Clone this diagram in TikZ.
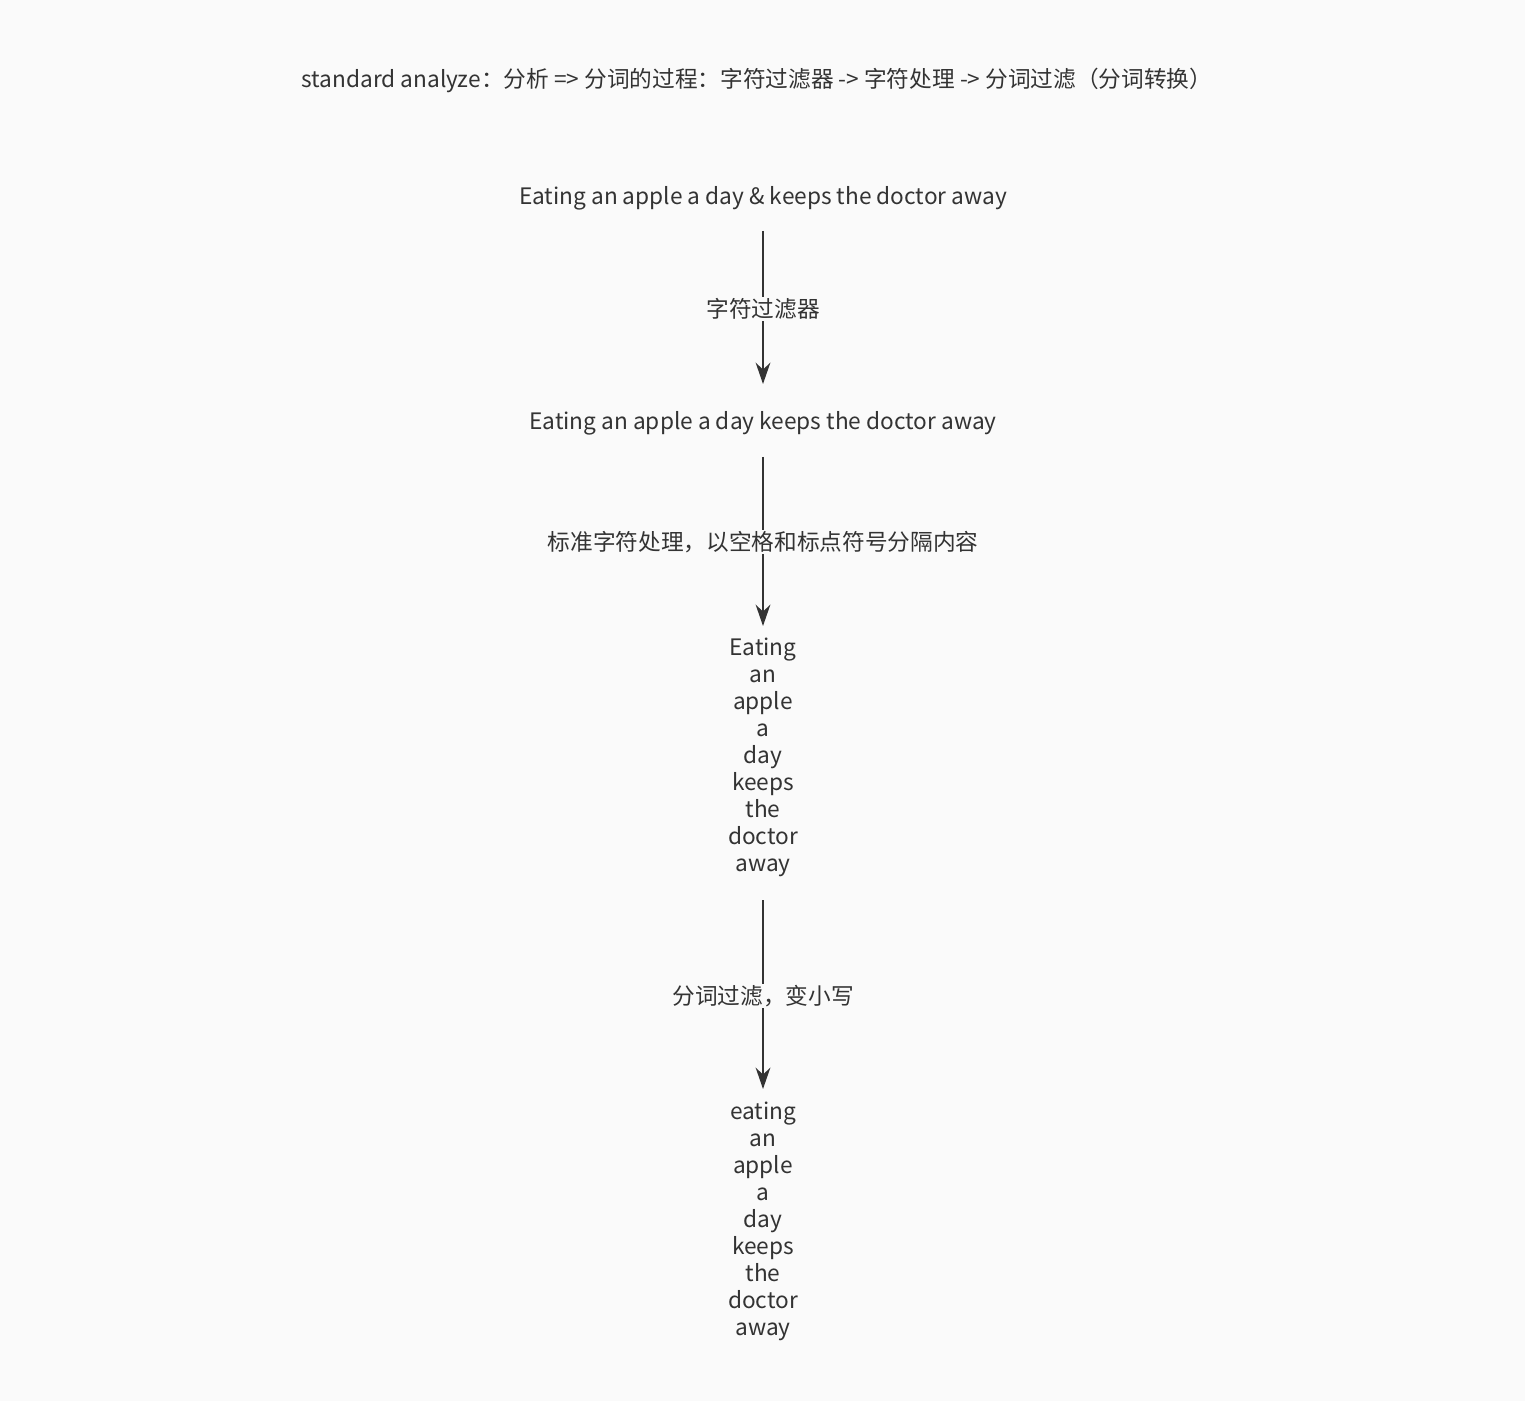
\documentclass[tikz,border=0pt]{standalone}
\usepackage{fontspec}
\setmainfont{Noto Sans CJK SC}
\usetikzlibrary{arrows.meta}
\definecolor{bg}{HTML}{FAFAFA}
\definecolor{ink}{HTML}{333333}
\begin{document}
\begin{tikzpicture}[x=0.75pt,y=-0.75pt,
  txt/.style={text=ink,font=\fontsize{17}{20.25}\selectfont,inner sep=0pt,align=center},
  lbl/.style={txt,fill=bg,inner sep=1pt},
  conn/.style={draw=ink,line width=1.8pt,-{Stealth[length=16pt,width=11pt]}}]
\fill[bg] (0,0) rectangle (1525,1401);
\node[txt] (title) at (757,80) {standard analyze：分析 => 分词的过程：字符过滤器 -> 字符处理 -> 分词过滤（分词转换）};
\node[txt] (t1) at (763,198) {Eating an apple a day \& keeps the doctor away};
\node[txt] (t2) at (763,423) {Eating an apple a day keeps the doctor away};
\node[txt,anchor=north] (t3) at (763,638) {Eating\\an\\apple\\a\\day\\keeps\\the\\doctor\\away};
\node[txt,anchor=north] (t4) at (763,1102) {eating\\an\\apple\\a\\day\\keeps\\the\\doctor\\away};
\coordinate (a1s) at (763,231); \coordinate (a1e) at (763,384);
\coordinate (a2s) at (763,457); \coordinate (a2e) at (763,626);
\coordinate (a3s) at (763,900); \coordinate (a3e) at (763,1089);
\draw[conn] (a1s) -- (a1e);
\draw[conn] (a2s) -- (a2e);
\draw[conn] (a3s) -- (a3e);
\node[lbl] (l1) at (763,309) {字符过滤器};
\node[lbl] (l2) at (763,542) {标准字符处理，以空格和标点符号分隔内容};
\node[lbl] (l3) at (763,996) {分词过滤，变小写};
\end{tikzpicture}
\end{document}
